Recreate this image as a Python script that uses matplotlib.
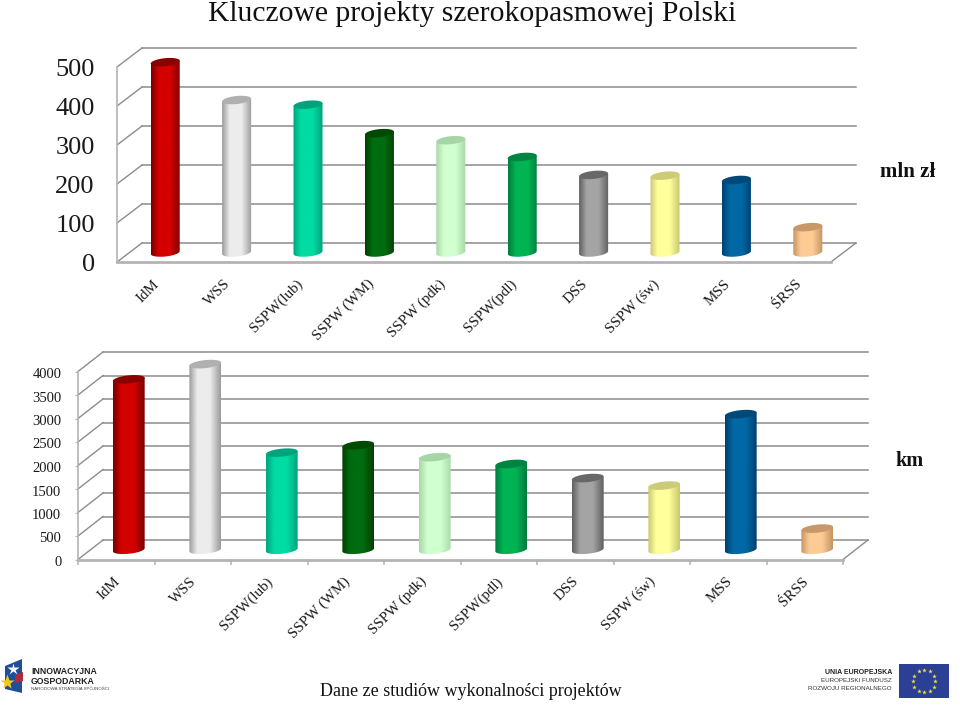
import numpy as np
import matplotlib
matplotlib.use('Agg')
import matplotlib.pyplot as plt
from matplotlib.colors import LinearSegmentedColormap
from matplotlib.patches import Polygon
from matplotlib.path import Path
from matplotlib.transforms import ScaledTranslation

plt.rcParams['font.family'] = ['Liberation Serif', 'DejaVu Serif']

categories = ['IdM', 'WSS', 'SSPW(lub)', 'SSPW (WM)', 'SSPW (pdk)', 'SSPW(pdl)',
              'DSS', 'SSPW (św)', 'MSS', 'ŚRSS']
cost_mln = [488, 391, 379, 306, 288, 245, 199, 197, 186, 65]
length_km = [3625, 3950, 2065, 2225, 1970, 1825, 1525, 1365, 2885, 450]
cost_ticks = [0, 100, 200, 300, 400, 500]
length_ticks = [0, 500, 1000, 1500, 2000, 2500, 3000, 3500, 4000]

# kolory walców: krawędź, środek, denko
edge_colors = ['#780000', '#9c9c9c', '#00a47c', '#004000', '#a8d8a8', '#007c3e',
               '#606060', '#c8c870', '#004070', '#c49464']
mid_colors = ['#d40000', '#ececec', '#00dca4', '#006c10', '#d0ffd0', '#00b454',
              '#a4a4a4', '#ffff9c', '#0068a4', '#fdcb94']
cap_colors = ['#8a0000', '#b0b0b0', '#00a47c', '#004a04', '#a6d6a6', '#008442',
              '#686868', '#cccc78', '#004878', '#c8986a']

W, H = 960, 710
GRID = '#8c8c8c'
FLOOR = '#b4b4b4'

fig = plt.figure(figsize=(W / 100, H / 100), dpi=100)

# warstwa w pikselach na tytuł, opisy i logotypy
over = fig.add_axes([0, 0, 1, 1])
over.set_xlim(0, W)
over.set_ylim(H, 0)
over.axis('off')


def chart(box, values, ticks, tick_size, y_pad, y_down, half_w, depth, label_off, show_ticks):
    left, bottom, right, top = box
    ax = fig.add_axes([left / W, 1 - bottom / H, (right - left) / W, (bottom - top) / H])
    ax.patch.set_alpha(0)
    ymax = ticks[-1]
    n = len(categories)
    slot = (right - left) / n
    scale = (bottom - top) / ymax
    dx = depth[0] / slot
    dy = depth[1] / scale

    # ściany i siatka
    for t in ticks:
        ax.plot([dx, n + dx], [t + dy, t + dy], color=GRID, lw=1.1, clip_on=False, zorder=1)
        ax.plot([0, dx], [t, t + dy], color=GRID, lw=1, clip_on=False, zorder=1)
    ax.plot([0, 0], [0, ymax], color=FLOOR, lw=1.2, clip_on=False, zorder=1)
    ax.plot([n, n + dx], [0, dy], color=GRID, lw=1, clip_on=False, zorder=1)
    ax.plot([0, n], [0, 0], color=FLOOR, lw=2, clip_on=False, zorder=2)

    # walce
    a = half_w
    b = 4.0
    phi = np.radians(6)
    s = np.linspace(0, 2 * np.pi, 80)
    ex = (a * np.cos(s) * np.cos(phi) - b * np.sin(s) * np.sin(phi)) / slot
    ey = (a * np.cos(s) * np.sin(phi) + b * np.sin(s) * np.cos(phi)) / scale
    for i, v in enumerate(values):
        cx = i + 0.5 + dx / 2
        base = dy / 2
        low = s > np.pi
        body = np.vstack([
            np.column_stack([cx + ex[low], base + ey[low]]),
            [[cx + ex[low][-1], v + base + ey[low][-1]],
             [cx + ex[low][0], v + base + ey[low][0]]],
        ])
        cmap = LinearSegmentedColormap.from_list(
            'c', [(0, edge_colors[i]), (0.25, mid_colors[i]), (0.66, mid_colors[i]), (1, edge_colors[i])])
        im = ax.imshow(np.linspace(0, 1, 64)[None, :], cmap=cmap, aspect='auto',
                       extent=[cx - a / slot, cx + a / slot, base - 8 / scale, v + base + 8 / scale],
                       interpolation='bilinear', zorder=3)
        clip = Path(np.vstack([body, body[0]]), closed=True)
        im.set_clip_path(clip, ax.transData)
        im.set_clip_box(fig.bbox)
        ax.add_patch(Polygon(np.column_stack([cx + ex, v + base + ey]), closed=True,
                             facecolor=cap_colors[i], edgecolor='none', clip_on=False, zorder=4))

    ax.set_xlim(0, n)
    ax.set_ylim(0, ymax)
    ax.set_yticks(ticks)
    ax.tick_params(axis='y', labelsize=tick_size, length=2 if show_ticks else 0, color=FLOOR,
                   pad=y_pad, labelcolor='#1a1a1a')
    ydown = ScaledTranslation(0, -y_down / 100, fig.dpi_scale_trans)
    for lab in ax.get_yticklabels():
        lab.set_transform(lab.get_transform() + ydown)
    ax.set_xticks(np.arange(n) + 0.5)
    ax.set_xticklabels(categories, rotation=45, ha='right', va='top', rotation_mode='anchor',
                       fontsize=10.8, color='#1a1a1a')
    ax.tick_params(axis='x', length=0, pad=label_off[1])
    shift = ScaledTranslation(label_off[0] / 100, 0, fig.dpi_scale_trans)
    for lab in ax.get_xticklabels():
        lab.set_transform(lab.get_transform() + shift)
    if show_ticks:
        for k in range(n + 1):
            ax.plot([k, k], [0, -4 / scale], color=FLOOR, lw=1.2, clip_on=False, zorder=2)
    for sp in ax.spines.values():
        sp.set_visible(False)
    return ax


chart((117, 262, 831, 67), cost_mln, cost_ticks, 19, 16, 0.5, 14.6, (25, 19), (0, 11), False)
chart((78, 559.5, 843, 371.5), length_km, length_ticks, 10.5, 10, 1.5, 16, (25, 19.5), (-3, 11), True)

over.text(472, 14, 'Kluczowe projekty szerokopasmowej Polski', fontsize=21.3, ha='center', va='center', color='#111111')
over.text(907.5, 172, 'mln zł', fontsize=15, fontweight='bold', ha='center', va='center', color='#111111')
over.text(909.5, 461, 'km', fontsize=14.5, fontweight='bold', ha='center', va='center', color='#111111')
over.text(471, 691, 'Dane ze studiów wykonalności projektów', fontsize=13, ha='center', va='center', color='#111111')

# logotyp po lewej
over.add_patch(Polygon([(5, 666), (22, 659), (22, 693), (5, 689)], closed=True, fc='#1f4f96', ec='none'))
over.add_patch(Polygon([(15, 675), (23, 672), (23, 681), (15, 683)], closed=True, fc='#b02a3c', ec='none'))
over.plot([13], [669], marker='*', ms=9, color='white', mec='none')
over.plot([7], [682], marker='*', ms=11, color='#f5c81e', mec='none')
sans = ['Liberation Sans', 'DejaVu Sans']
over.text(31, 672, 'INNOWACYJNA', fontsize=6.3, fontweight='bold', family=sans, va='center', color='#222222')
over.text(31, 681, 'GOSPODARKA', fontsize=6.3, fontweight='bold', family=sans, va='center', color='#222222')
over.text(31, 688.5, 'NARODOWA STRATEGIA SPÓJNOŚCI', fontsize=3.2, family=sans, va='center', color='#444444')

# logotyp po prawej
over.text(892, 672, 'UNIA EUROPEJSKA', fontsize=5, fontweight='bold', family=sans, ha='right', va='center', color='#222222')
over.text(892, 681, 'EUROPEJSKI FUNDUSZ', fontsize=4.5, family=sans, ha='right', va='center', color='#333333')
over.text(892, 689, 'ROZWOJU REGIONALNEGO', fontsize=4.5, family=sans, ha='right', va='center', color='#333333')
over.fill_between([899, 949], 664, 697.5, color='#2b3f94', lw=0)
ang = np.radians(np.arange(0, 360, 30))
over.plot(924 + 11 * np.cos(ang), 681 + 11 * np.sin(ang), ls='none', marker='*', ms=3.5, color='#f2e23a', mec='none')
over.set_xlim(0, W)
over.set_ylim(H, 0)

fig.savefig('out.png', dpi=100)
